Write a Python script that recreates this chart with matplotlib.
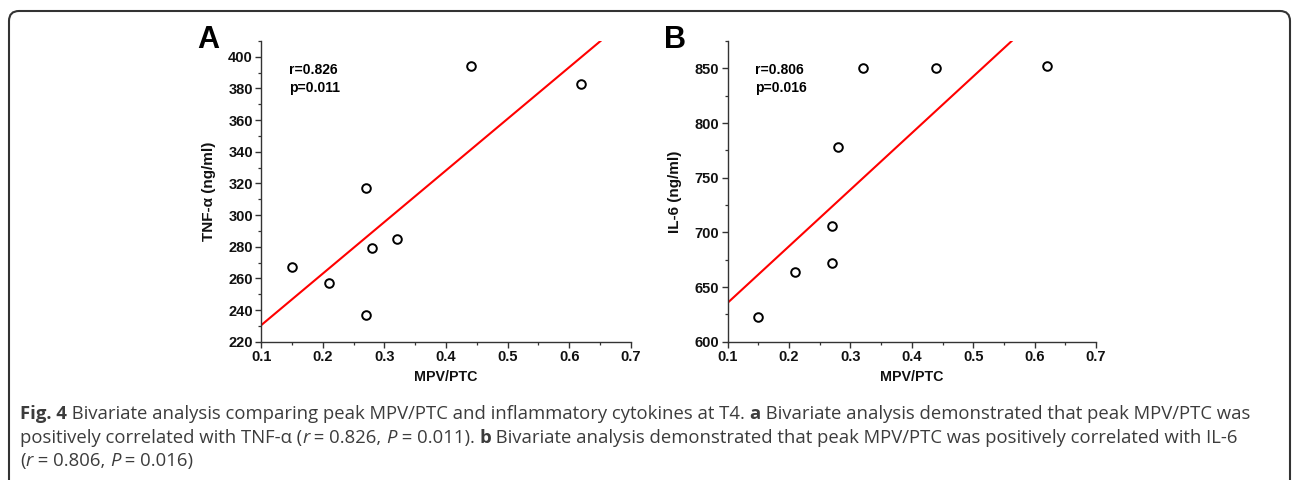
import matplotlib
matplotlib.use("Agg")
import matplotlib.pyplot as plt
from matplotlib.patches import FancyBboxPatch
from matplotlib.transforms import IdentityTransform
from matplotlib.ticker import MultipleLocator

# ---------------- data ----------------
x_a = [0.15, 0.21, 0.27, 0.27, 0.28, 0.32, 0.44, 0.62]
tnf = [267, 257, 317, 237, 279, 285, 394, 383]
fit_a_x = [0.1, 0.651]
fit_a_y = [230.5, 410.0]

x_b = [0.15, 0.21, 0.27, 0.27, 0.28, 0.32, 0.44, 0.62]
il6 = [623, 664, 706, 672, 778, 850, 850, 852]
fit_b_x = [0.1, 0.5627]
fit_b_y = [635.6, 875.0]

xticks = [0.1, 0.2, 0.3, 0.4, 0.5, 0.6, 0.7]
yticks_a = [220, 240, 260, 280, 300, 320, 340, 360, 380, 400]
yticks_b = [600, 650, 700, 750, 800, 850]

ann_a = ["r=0.826", "p=0.011"]
ann_b = ["r=0.806", "p=0.016"]

W, H = 1292, 480
fig = plt.figure(figsize=(W / 100, H / 100), dpi=100)
plt.rcParams['font.family'] = ['Liberation Sans', 'DejaVu Sans']

# border with rounded corners (pixel coordinates)
box = FancyBboxPatch((9, -60), 1281, (H - 11) + 60,
                     boxstyle="round,pad=0,rounding_size=10",
                     transform=IdentityTransform(), fill=False,
                     edgecolor="#333333", linewidth=1.5)
fig.patches.append(box)

def make_panel(rect, xs, ys, fx, fy, yticks, ylim, yminor, ylabel, ann):
    ax = fig.add_axes(rect)
    ax.plot(fx, fy, color="#ff0000", lw=1.5, zorder=2)
    ax.plot(xs, ys, 'o', mfc='white', mec='black', mew=1.4, ms=6.2, zorder=3,
            clip_on=False)
    ax.set_xlim(0.1, 0.7)
    ax.set_ylim(*ylim)
    ax.set_xticks(xticks)
    ax.set_xticklabels([f"{v:.1f}" for v in xticks])
    ax.set_yticks(yticks)
    ax.set_yticklabels([str(v) for v in yticks])
    ax.xaxis.set_minor_locator(MultipleLocator(0.05))
    ax.yaxis.set_minor_locator(MultipleLocator(yminor))
    for s in ["top", "right"]:
        ax.spines[s].set_visible(False)
    for s in ["left", "bottom"]:
        ax.spines[s].set_linewidth(1.0)
        ax.spines[s].set_color("#333333")
    ax.tick_params(which="major", direction="out", length=4, width=1.0,
                   color="#333333", labelsize=10.5, pad=2)
    ax.tick_params(which="minor", direction="out", length=2.5, width=0.9,
                   color="#333333")
    for lab in ax.get_xticklabels() + ax.get_yticklabels():
        lab.set_fontweight("bold")
        lab.set_color("#111111")
    ax.set_xlabel("MPV/PTC", fontsize=10.3, fontweight="bold", labelpad=4,
                  color="#111111")
    ax.set_ylabel(ylabel, fontsize=11, fontweight="bold", labelpad=9,
                  color="#111111")
    ax.text(0.075, 0.903, ann[0], transform=ax.transAxes, fontsize=10,
            fontweight="bold", va="center", ha="left")
    ax.text(0.075, 0.843, ann[1], transform=ax.transAxes, fontsize=10,
            fontweight="bold", va="center", ha="left")
    return ax

ax_a = make_panel([261.3 / W, 1 - 341.7 / H, (630.7 - 261.3) / W, (341.7 - 41) / H],
                  x_a, tnf, fit_a_x, fit_a_y, yticks_a, (220, 410), 10,
                  "TNF-α (ng/ml)", ann_a)
ax_b = make_panel([727.7 / W, 1 - 341.7 / H, (1096 - 727.7) / W, (341.7 - 41) / H],
                  x_b, il6, fit_b_x, fit_b_y, yticks_b, (600, 875), 25,
                  "IL-6 (ng/ml)", ann_b)

fig.text(197 / W, 1 - 40 / H, "A", fontsize=22, fontweight="bold", va="center",
         ha="left")
fig.text(664 / W, 1 - 40 / H, "B", fontsize=22, fontweight="bold", va="center",
         ha="left")

# ---------------- caption ----------------
cap_font = ['Open Sans', 'DejaVu Sans']
cap_size = 13.3
cap_color = "#3c3c3c"
lines = [
    [("Fig. 4", "bold", "normal"),
     (" Bivariate analysis comparing peak MPV/PTC and inflammatory cytokines at T4. ", "normal", "normal"),
     ("a", "bold", "normal"),
     (" Bivariate analysis demonstrated that peak MPV/PTC was", "normal", "normal")],
    [("positively correlated with TNF-α (", "normal", "normal"),
     ("r", "normal", "italic"),
     (" = 0.826, ", "normal", "normal"),
     ("P", "normal", "italic"),
     (" = 0.011). ", "normal", "normal"),
     ("b", "bold", "normal"),
     (" Bivariate analysis demonstrated that peak MPV/PTC was positively correlated with IL-6", "normal", "normal")],
    [("(", "normal", "normal"),
     ("r", "normal", "italic"),
     (" = 0.806, ", "normal", "normal"),
     ("P", "normal", "italic"),
     (" = 0.016)", "normal", "normal")],
]
baselines = [419, 443, 466]

fig.canvas.draw()
renderer = fig.canvas.get_renderer()
for runs, by in zip(lines, baselines):
    xpx = 20.0
    for txt, wt, st in runs:
        t = fig.text(xpx / W, 1 - by / H, txt, family=cap_font, fontsize=cap_size,
                     fontweight=wt, fontstyle=st, color=cap_color,
                     va="baseline", ha="left")
        bb = t.get_window_extent(renderer)
        xpx += bb.width

fig.savefig("out.png", dpi=100)
